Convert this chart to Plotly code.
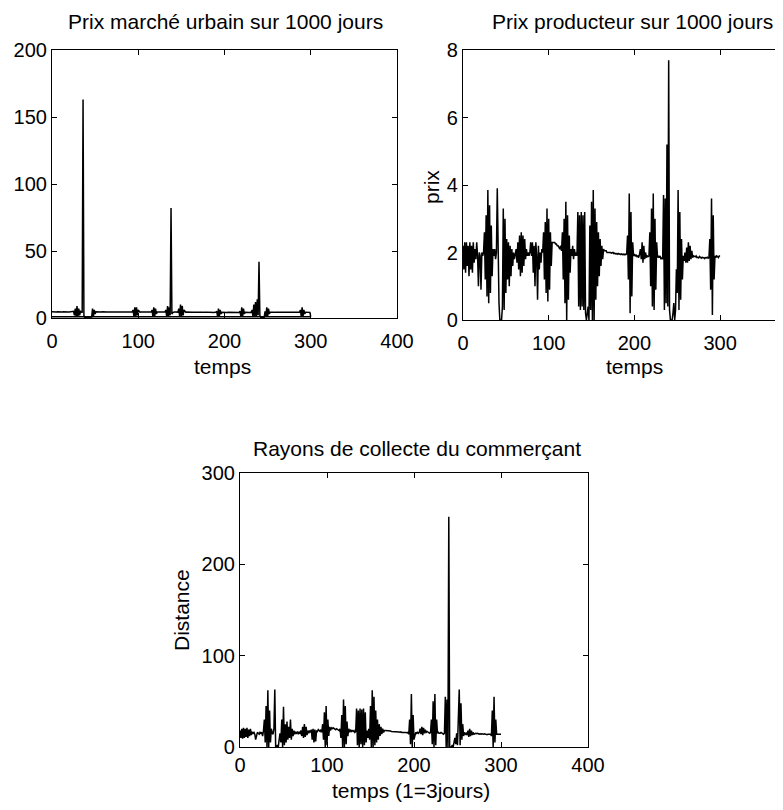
import plotly.graph_objects as go

# ---------------- data ----------------
# Panel 1 : urban market price (upper trace), time steps 0..300
prix_urbain = [
    4.6, 4.5, 4.7, 4.5, 4.6, 4.4, 4.6, 4.5, 4.7, 4.5,
    4.6, 4.5, 4.4, 4.6, 4.5, 4.7, 4.5, 4.4, 4.6, 4.5,
    4.5, 4.6, 4.4, 4.5, 4.6, 5.0, 2.0, 7.0, 1.0, 9.0,
    1.0, 7.0, 2.0, 5.0, 4.5, 4.0, 163.0, 2.0, 0.5, 0.5,
    0.5, 0.6, 0.5, 0.5, 0.6, 0.5, 0.8, 7.0, 1.0, 6.0,
    3.0, 4.6, 4.5, 4.4, 4.6, 4.5, 4.5, 4.4, 4.6, 4.5,
    4.4, 4.5, 4.5, 4.6, 4.4, 4.5, 4.5, 4.4, 4.5, 4.6,
    4.5, 4.4, 4.5, 4.5, 4.4, 4.6, 4.5, 4.4, 4.5, 4.5,
    4.4, 4.5, 4.6, 4.4, 4.5, 4.5, 4.4, 4.5, 4.6, 4.5,
    4.4, 4.5, 4.5, 4.6, 6.0, 1.0, 8.0, 1.0, 8.0, 2.0,
    6.0, 4.5, 4.4, 4.5, 4.5, 4.6, 4.4, 4.5, 4.5, 4.4,
    4.5, 4.6, 4.5, 4.4, 4.5, 4.5, 6.0, 1.0, 8.0, 1.0,
    7.0, 3.0, 4.5, 4.4, 4.5, 4.6, 4.5, 4.4, 4.5, 4.5,
    4.4, 4.5, 6.0, 1.0, 9.0, 1.0, 8.0, 2.0, 82.0, 3.0,
    4.0, 4.5, 4.4, 4.5, 4.6, 4.5, 4.4, 7.0, 1.0, 10.0,
    1.0, 9.0, 2.0, 6.0, 4.4, 4.3, 4.4, 4.3, 4.4, 4.3,
    4.3, 4.4, 4.3, 4.3, 4.4, 4.3, 4.3, 4.2, 4.3, 4.3,
    4.2, 4.3, 4.3, 4.2, 4.3, 4.2, 4.3, 4.2, 4.2, 4.3,
    4.2, 4.2, 4.3, 4.2, 4.2, 4.1, 4.2, 4.2, 4.1, 4.2,
    4.2, 5.0, 1.0, 7.0, 1.0, 6.0, 3.0, 4.2, 4.1, 4.2,
    4.2, 4.1, 4.2, 4.1, 4.2, 4.2, 4.1, 4.2, 4.1, 4.2,
    4.2, 4.1, 4.2, 4.1, 4.2, 4.1, 4.2, 4.1, 5.0, 1.0,
    8.0, 1.0, 7.0, 3.0, 4.2, 4.1, 4.2, 4.1, 4.2, 4.1,
    4.2, 4.1, 6.0, 1.0, 10.0, 1.0, 12.0, 1.0, 14.0, 2.0,
    42.0, 2.0, 0.5, 0.5, 0.5, 0.6, 0.5, 5.0, 1.0, 8.0,
    1.0, 7.0, 3.0, 4.3, 4.2, 4.3, 4.2, 4.3, 4.2, 4.3,
    4.3, 4.2, 4.3, 4.2, 4.3, 4.2, 4.2, 4.3, 4.2, 4.3,
    4.2, 4.3, 4.2, 4.2, 4.3, 4.2, 4.3, 4.2, 4.2, 4.3,
    4.2, 4.3, 4.2, 4.2, 4.3, 4.2, 4.2, 4.3, 6.0, 1.0,
    8.0, 1.0, 6.0, 3.0, 4.3, 4.2, 4.3, 4.2, 4.3, 4.2,
    1.0,
]
# Panel 1 : lower trace (start / end points)
temps_bas = [0, 300]
prix_urbain_bas = [1.0, 1.0]

# Panel 2 : producer price, time steps 0..300
prix_producteur = [
    2.2, 1.5, 2.3, 1.4, 2.3, 1.6, 2.2, 1.3, 2.3, 1.5,
    2.2, 1.4, 2.3, 1.7, 2.1, 1.8, 2.3, 1.9, 1.0, 2.0,
    1.9, 0.9, 2.0, 1.9, 2.0, 2.6, 1.2, 3.1, 0.7, 3.85,
    0.5, 3.4, 0.8, 2.8, 1.3, 2.1, 1.9, 2.1, 1.8, 2.0,
    3.9, 1.2, 0.5, 0.0, 0.0, 0.0, 0.4, 3.3, 0.3, 3.0,
    0.8, 2.4, 1.2, 2.3, 1.0, 2.2, 1.3, 2.1, 1.6, 2.0,
    1.8, 2.0, 2.1, 1.7, 2.3, 1.5, 2.5, 1.3, 2.6, 1.4,
    2.5, 1.6, 2.4, 1.8, 2.1, 1.9, 2.0, 1.9, 2.0, 2.3,
    1.9, 2.3, 1.4, 2.2, 1.0, 2.3, 1.9, 0.6, 2.2, 1.5,
    2.0, 1.7, 2.1, 2.0, 2.6, 1.2, 2.9, 0.8, 3.3, 0.55,
    3.0, 0.9, 2.6, 1.6, 2.3, 2.3, 2.3, 2.3, 2.25, 2.25,
    2.2, 2.2, 2.15, 2.1, 2.2, 2.05, 2.6, 1.2, 3.0, 0.5,
    3.5, 0.0, 3.1, 0.6, 2.5, 1.4, 2.1, 1.9, 2.2, 1.8,
    2.1, 1.9, 2.0, 1.9, 3.2, 0.4, 3.1, 0.3, 3.2, 0.4,
    3.1, 0.3, 3.2, 0.2, 0.0, 0.3, 0.4, 0.0, 2.8, 0.3,
    3.5, 0.0, 3.85, 0.0, 3.3, 0.6, 2.9, 1.0, 2.6, 1.3,
    2.4, 1.6, 2.2, 1.8, 2.1, 2.05, 2.05, 2.05, 2.0, 2.0,
    2.0, 2.02, 2.0, 1.98, 2.0, 2.0, 1.97, 1.98, 1.96, 1.97,
    1.95, 1.97, 1.95, 1.96, 1.94, 1.96, 1.94, 1.95, 1.93, 1.95,
    1.94, 1.96, 2.5, 1.2, 3.75, 0.2, 3.2, 0.7, 2.3, 1.9,
    1.95, 1.9, 1.92, 1.88, 1.9, 1.85, 1.95, 2.1, 1.8, 2.3,
    1.7, 2.2, 1.8, 2.0, 1.85, 1.9, 1.88, 1.9, 2.6, 1.0,
    3.3, 0.4, 3.75, 0.3, 3.0, 0.9, 2.3, 1.85, 1.9, 1.85,
    1.9, 1.8, 1.85, 1.8, 3.7, 0.3, 3.6, 0.5, 5.2, 0.4,
    7.7, 0.3, 0.0, 0.0, 0.0, 0.2, 0.5, 0.0, 0.3, 1.5,
    0.8, 3.85, 0.3, 3.2, 0.6, 2.4, 1.2, 1.9, 1.75, 2.0,
    1.7, 2.15, 1.7, 2.3, 1.75, 2.2, 1.8, 2.05, 1.85, 1.9,
    1.88, 1.87, 1.9, 1.85, 1.86, 1.84, 1.88, 1.85, 1.83, 1.86,
    1.84, 1.85, 1.82, 1.85, 1.84, 1.86, 1.83, 1.85, 2.4, 0.9,
    3.6, 0.15, 3.1, 1.2, 1.9, 1.85, 1.9, 1.88, 1.85, 1.9,
    1.9,
]

# Panel 3 : collection radius of the trader, time steps 0..300
distance = [
    18, 10, 20, 9, 21, 10, 20, 11, 21, 10,
    19, 12, 20, 13, 16, 15, 16, 14, 8, 15,
    16, 15, 14, 16, 15, 16, 12, 18, 30, 5,
    45, 0, 62, 0, 40, 5, 20, 15, 14, 20,
    63, 0, 0, 2, 0, 8, 15, 5, 30, 0,
    44, 2, 25, 5, 28, 8, 22, 10, 30, 8,
    20, 12, 18, 14, 16, 15, 17, 14, 16, 15,
    18, 12, 22, 10, 25, 11, 22, 13, 18, 15,
    18, 16, 19, 8, 20, 5, 19, 6, 18, 17,
    19, 18, 17, 19, 16, 25, 8, 38, 0, 45,
    2, 30, 12, 22, 18, 21, 20, 21, 20, 20,
    19, 20, 19, 19, 18, 20, 10, 35, 0, 52,
    0, 45, 3, 28, 12, 20, 16, 19, 17, 18,
    17, 18, 16, 17, 42, 2, 40, 0, 42, 3,
    41, 0, 42, 2, 38, 5, 18, 10, 20, 8,
    45, 0, 62, 0, 55, 2, 40, 5, 30, 8,
    25, 12, 22, 14, 20, 16, 18, 18, 18, 18,
    18, 18, 17.5, 17.5, 17, 17, 17, 17, 17, 16.5,
    16.5, 17, 16.5, 16.5, 16, 16.5, 16, 16, 16.5, 16,
    16, 16, 15.5, 16, 14, 30, 3, 58, 0, 35,
    8, 15, 16, 15, 16, 15, 16, 20, 14, 22,
    13, 21, 15, 19, 16, 17, 16, 16, 15, 16,
    30, 3, 50, 0, 58, 2, 30, 15, 16, 15,
    15, 16, 15, 15, 14, 15, 55, 0, 52, 0,
    252, 0, 0, 0, 2, 0, 5, 10, 3, 15,
    2, 40, 63, 2, 48, 8, 25, 12, 16, 14,
    15, 13, 18, 11, 20, 12, 18, 13, 16, 14,
    15, 15, 14.5, 15, 14.5, 14, 14.5, 14, 14.5, 14,
    14, 14.5, 14, 14, 13.5, 14, 14, 13.5, 14, 12,
    40, 0, 55, 5, 30, 14, 14, 13.5, 14, 14,
    14,
]

ticks_x = [0, 100, 200, 300, 400]
ticks_y1 = [0, 50, 100, 150, 200]
ticks_y2 = [0, 2, 4, 6, 8]
ticks_y3 = [0, 100, 200, 300]

titre1 = "Prix marché urbain sur 1000 jours"
titre2 = "Prix producteur sur 1000 jours"
titre3 = "Rayons de collecte du commerçant"

# ---------------- figure ----------------
W, H = 783, 810
OFF = 8  # page body margin of the html page
FONT = "Liberation Sans, Arial, sans-serif"
LINE = dict(color="black", width=1.5)


def px(x):
    return (x - OFF) / W


def py(y):
    return 1 - (y - OFF) / H


fig = go.Figure()
fig.add_trace(go.Scatter(x=list(range(len(prix_urbain))), y=prix_urbain, mode="lines",
                         line=LINE, xaxis="x", yaxis="y", showlegend=False))
fig.add_trace(go.Scatter(x=temps_bas, y=prix_urbain_bas, mode="lines",
                         line=LINE, xaxis="x", yaxis="y", showlegend=False))
fig.add_trace(go.Scatter(x=list(range(len(prix_producteur))), y=prix_producteur, mode="lines",
                         line=LINE, xaxis="x2", yaxis="y2", showlegend=False))
fig.add_trace(go.Scatter(x=list(range(len(distance))), y=distance, mode="lines",
                         line=LINE, xaxis="x3", yaxis="y3", showlegend=False))

common = dict(showline=True, linecolor="black", linewidth=1.2, ticks="inside", ticklen=5,
              tickcolor="black", showgrid=False, zeroline=False, automargin=False,
              tickfont=dict(family=FONT, size=20, color="black"), fixedrange=True)
xcommon = dict(common, ticklabelstandoff=5)

fig.update_layout(
    template="none",
    width=W, height=H, margin=dict(l=0, r=0, t=0, b=0, autoexpand=False),
    paper_bgcolor="white", plot_bgcolor="white",
    xaxis=dict(domain=[px(52), px(397)], range=[0, 400], tickvals=ticks_x,
               anchor="y", mirror="ticks", **xcommon),
    yaxis=dict(domain=[py(318), py(50)], range=[0, 200], tickvals=ticks_y1,
               anchor="x", mirror="ticks", **common),
    xaxis2=dict(domain=[px(463), 1.0], range=[0, (W + OFF - 463) / 0.857], tickvals=ticks_x,
                anchor="y2", mirror="ticks", **xcommon),
    yaxis2=dict(domain=[py(320), py(50)], range=[0, 8], tickvals=ticks_y2,
                anchor="x2", mirror=False, **common),
    xaxis3=dict(domain=[px(240), px(588)], range=[0, 400], tickvals=ticks_x,
                anchor="y3", mirror="ticks", **common),
    yaxis3=dict(domain=[py(747), py(473)], range=[0, 300], tickvals=ticks_y3,
                anchor="x3", mirror="ticks", **common),
)


def label(text, x, y, size=21, angle=0):
    fig.add_annotation(text=text, x=px(x), y=py(y), xref="paper", yref="paper",
                       showarrow=False, textangle=angle, xanchor="center", yanchor="middle",
                       font=dict(family=FONT, size=size, color="black"))


label(titre1, 226, 22)
label(titre2, 632, 22)
label(titre3, 417, 449)
label("temps", 222, 366)
label("temps", 634, 366)
label("prix", 431, 187, 21, -90)
label("Distance", 181, 610, 21, -90)
label("temps (1=3jours)", 411, 790)

fig.write_html("out.html")
